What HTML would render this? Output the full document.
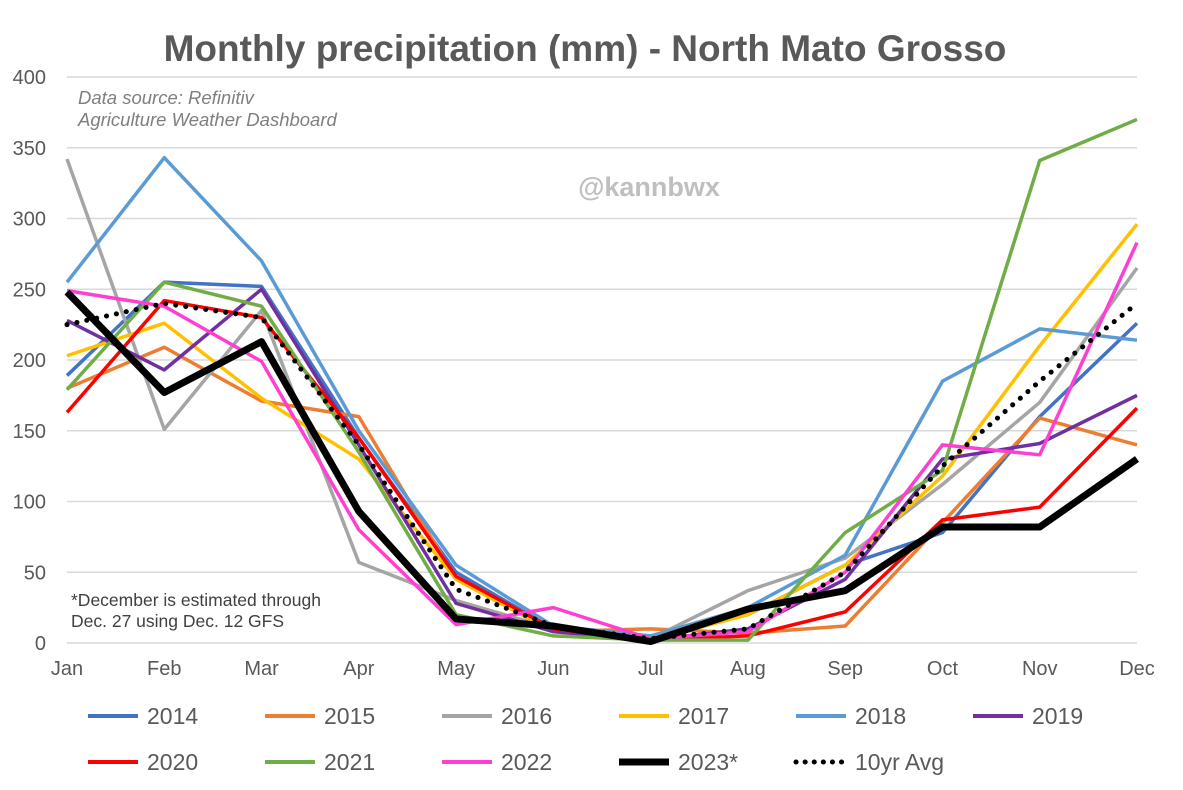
<!DOCTYPE html>
<html><head><meta charset="utf-8"><style>
body{margin:0;background:#fff;font-family:"Liberation Sans",Arial,sans-serif}
svg{display:block}
</style></head><body>
<svg id="c" width="1183" height="790">
<text x="585" y="61" text-anchor="middle" font-size="37" font-weight="bold" fill="#595959">Monthly precipitation (mm) - North Mato Grosso</text>
<text x="78" y="104" font-size="18.5" font-style="italic" fill="#7f7f7f">Data source: Refinitiv</text>
<text x="78" y="126" font-size="18.5" font-style="italic" fill="#7f7f7f">Agriculture Weather Dashboard</text>
<text x="649" y="196" text-anchor="middle" font-size="27" font-weight="bold" fill="#bfbfbf">@kannbwx</text>
<text x="71" y="606" font-size="17.5" fill="#404040">*December is estimated through</text>
<text x="71" y="627" font-size="17.5" fill="#404040">Dec. 27 using Dec. 12 GFS</text>
<g id="grid"></g><g id="lines"></g><g id="legend"></g>
</svg>
<script>
const months=["Jan","Feb","Mar","Apr","May","Jun","Jul","Aug","Sep","Oct","Nov","Dec"];
const yTicks=[0,50,100,150,200,250,300,350,400];
const names=["2014","2015","2016","2017","2018","2019","2020","2021","2022","2023*","10yr Avg"];
const colors=["#4472c4","#ed7d31","#a5a5a5","#ffc000","#5b9bd5","#7030a0","#ff0000","#70ad47","#ff3fd2","#000000","#000000"];
const s2014=[189,255,252,145,50,10,5,20,55,78,160,226];
const s2015=[180,209,171,160,45,8,10,7,12,85,159,140];
const s2016=[342,151,235,57,30,10,3,37,60,112,170,265];
const s2017=[203,226,173,130,45,8,2,20,55,118,210,296];
const s2018=[255,343,270,150,55,12,5,25,62,185,222,214];
const s2019=[228,193,250,140,28,8,2,10,45,130,141,175];
const s2020=[163,242,230,145,47,10,2,5,22,87,96,166];
const s2021=[179,255,238,135,20,5,2,2,78,122,341,370];
const s2022=[249,238,199,80,13,25,3,8,50,140,133,283];
const s2023=[248,177,213,93,17,12,1,24,37,82,82,130];
const sAvg=[225,240,230,140,38,12,3,10,50,125,185,240];
const series=[s2014,s2015,s2016,s2017,s2018,s2019,s2020,s2021,s2022,s2023,sAvg];
const NS="http://www.w3.org/2000/svg";
const X=i=>67+i*(1137-67)/11, Y=v=>643-v*(643-77)/400;
function mk(t,a,p){const e=document.createElementNS(NS,t);for(const k in a)e.setAttribute(k,a[k]);p.appendChild(e);return e;}
const g=document.getElementById('grid');
yTicks.forEach(v=>{
 const l=mk('line',{x1:67,x2:1137,y1:Y(v),y2:Y(v),stroke:'#d9d9d9','stroke-width':1.5},g);
 
 
 const t=mk('text',{x:46,y:Y(v)+7,'text-anchor':'end','font-size':20,fill:'#595959'},g);t.textContent=v;
 
 
});
months.forEach((m,i)=>{
 const t=mk('text',{x:X(i),y:675,'text-anchor':'middle','font-size':20,fill:'#595959'},g);t.textContent=m;
 
 
});
const lg=document.getElementById('lines');
series.forEach((s,k)=>{
 const w=k==9?7:(k==10?5:3.5);
 const a={points:s.map((v,i)=>X(i)+','+Y(v)).join(' '),fill:'none',stroke:colors[k],'stroke-width':w,'stroke-linejoin':'round'};
 if(k==10){a['stroke-dasharray']='0.1 10';a['stroke-linecap']='round';}
 const p=mk('polyline',a,lg);
 
 
});
const L=document.getElementById('legend');
names.forEach((n,k)=>{
 const col=k%6,row=Math.floor(k/6);
 const x=88+col*177,y=716+row*46;
 const w=k==9?7:(k==10?5:4);
 const a={x1:x,x2:x+50,y1:y,y2:y,stroke:colors[k],'stroke-width':w};
 if(k==10){a['stroke-dasharray']='0.1 9';a['stroke-linecap']='round';}
 const l=mk('line',a,L);
 
 
 const t=mk('text',{x:x+59,y:y+8,'font-size':23,fill:'#595959'},L);t.textContent=n;
 
 
});
</script>
</body></html>
